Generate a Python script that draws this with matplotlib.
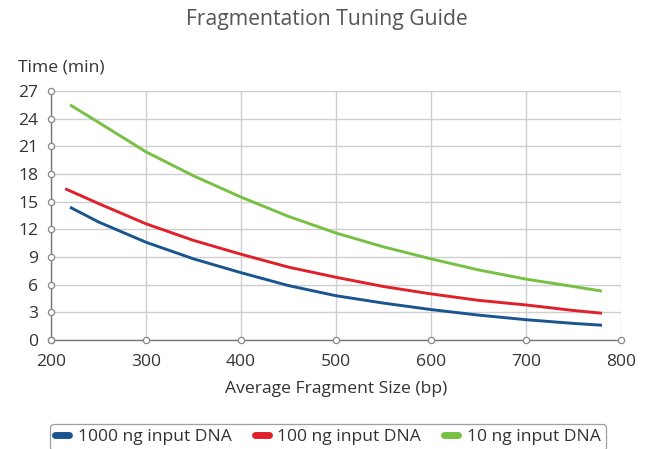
import matplotlib
matplotlib.use("Agg")
import matplotlib.pyplot as plt
from matplotlib.lines import Line2D

plt.rcParams['font.family'] = ['Open Sans', 'DejaVu Sans']

x_blue = [220, 250, 300, 350, 400, 450, 500, 550, 600, 650, 700, 750, 780]
y_blue = [14.4, 12.8, 10.6, 8.8, 7.3, 5.9, 4.8, 4.0, 3.3, 2.7, 2.2, 1.8, 1.6]
x_red = [215, 250, 300, 350, 400, 450, 500, 550, 600, 650, 700, 750, 780]
y_red = [16.4, 14.8, 12.6, 10.8, 9.3, 7.9, 6.8, 5.8, 5.0, 4.3, 3.8, 3.2, 2.9]
x_green = [220, 250, 300, 350, 400, 450, 500, 550, 600, 650, 700, 750, 780]
y_green = [25.5, 23.6, 20.4, 17.8, 15.5, 13.4, 11.6, 10.1, 8.8, 7.6, 6.6, 5.8, 5.3]
labels = ["1000 ng input DNA", "100 ng input DNA", "10 ng input DNA"]
colors = ["#1a5590", "#e0202a", "#78c043"]
xticks = [200, 300, 400, 500, 600, 700, 800]
yticks = [0, 3, 6, 9, 12, 15, 18, 21, 24, 27]

FS = 12.6
fig = plt.figure(figsize=(6.46, 4.49), dpi=100)
ax = fig.add_axes([51/646, 109/449, 570/646, 249/449])
ax.set_xlim(200, 800)
ax.set_ylim(0, 27)

for xs, ys, c in zip([x_blue, x_red, x_green], [y_blue, y_red, y_green], colors):
    ax.plot(xs, ys, color=c, lw=2.1, solid_capstyle='butt')

ax.set_xticks(xticks)
ax.set_yticks(yticks)
ax.grid(True, color='#cfcfcf', lw=1.0)
ax.set_axisbelow(True)
for s in ['top', 'right']:
    ax.spines[s].set_visible(False)
for s in ['left', 'bottom']:
    ax.spines[s].set_color('#777777')
    ax.spines[s].set_linewidth(1.0)
ax.tick_params(length=0, labelsize=FS, colors='#333333')
ax.tick_params(axis='x', pad=10)
ax.tick_params(axis='y', pad=9)

ax.plot(xticks, [0]*len(xticks), 'o', ms=4.5, mfc='white', mec='#888888', mew=0.9, clip_on=False, zorder=5)
ax.plot([200]*len(yticks), yticks, 'o', ms=4.5, mfc='white', mec='#888888', mew=0.9, clip_on=False, zorder=5)

ax.set_xlabel("Average Fragment Size (bp)", fontsize=FS, color='#333333', labelpad=8)
fig.text(18/646, 1-68/449, "Time (min)", fontsize=FS, color='#333333', ha='left', va='center')
fig.text(327/646, 1-20/449, "Fragmentation Tuning Guide", fontsize=15.2, color='#555555', ha='center', va='center')

handles = [Line2D([0], [0], color=c, lw=5, solid_capstyle='round') for c in colors]
leg = fig.legend(handles, labels, loc='center', bbox_to_anchor=(328/646, 1-437/449), ncol=3,
                 fontsize=FS, frameon=True, handlelength=0.8, handletextpad=0.5, columnspacing=1.3,
                 borderpad=0.3, fancybox=True)
leg.get_frame().set_edgecolor('#888888')
leg.get_frame().set_linewidth(0.9)
for t in leg.get_texts():
    t.set_color('#333333')

fig.savefig("out.png", dpi=100)
